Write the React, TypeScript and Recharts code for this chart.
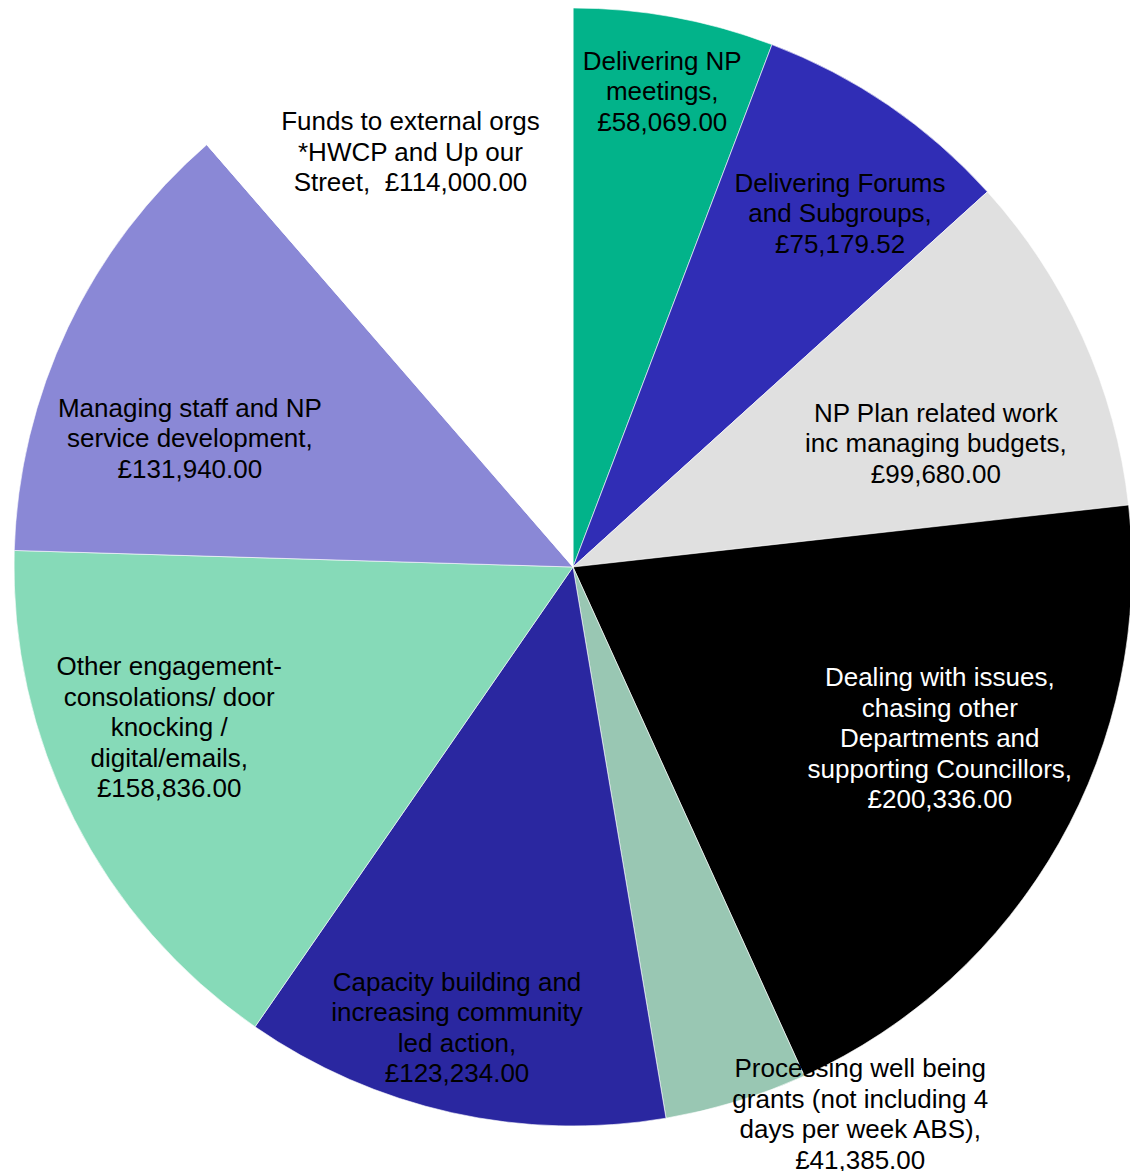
import { PieChart, Pie, Cell } from "recharts";

const categories = [
  "Delivering NP meetings",
  "Delivering Forums and Subgroups",
  "NP Plan related work inc managing budgets",
  "Dealing with issues, chasing other Departments and supporting Councillors",
  "Processing well being grants (not including 4 days per week ABS)",
  "Capacity building and increasing community led action",
  "Other engagement- consolations/ door knocking / digital/emails",
  "Managing staff and NP service development",
  "Funds to external orgs *HWCP and Up our Street",
];

const values = [
  58069.0, 75179.52, 99680.0, 200336.0, 41385.0, 123234.0, 158836.0, 131940.0,
  114000.0,
];

// label text as wrapped in the original
const labelLines = [
  ["Delivering NP", "meetings,", "£58,069.00"],
  ["Delivering Forums", "and Subgroups,", "£75,179.52"],
  ["NP Plan related work", "inc managing budgets,", "£99,680.00"],
  [
    "Dealing with issues,",
    "chasing other",
    "Departments and",
    "supporting Councillors,",
    "£200,336.00",
  ],
  [
    "Processing well being",
    "grants (not including 4",
    "days per week ABS),",
    "£41,385.00",
  ],
  ["Capacity building and", "increasing community", "led action,", "£123,234.00"],
  [
    "Other engagement-",
    "consolations/ door",
    "knocking /",
    "digital/emails,",
    "£158,836.00",
  ],
  ["Managing staff and NP", "service development,", "£131,940.00"],
  ["Funds to external orgs", "*HWCP and Up our", "Street,  £114,000.00"],
];

const colors = [
  "#02B38A",
  "#302DB5",
  "#E0E0E0",
  "#000000",
  "#99C7B3",
  "#2A27A0",
  "#86DAB8",
  "#8A88D6",
  "#FFFFFF",
];

const textColors = ["#000", "#000", "#000", "#fff", "#000", "#000", "#000", "#000", "#000"];

// manual label nudges (degrees clockwise, fraction of radius)
const labelShift = [0.2, 2.7, 5.4, -4.6, -10.7, 1.6, 5.2, -6.8, -0.9];
const labelRadius = [0.866, 0.793, 0.686, 0.724, 1.105, 0.849, 0.777, 0.723, 0.798];

const data = categories.map((name, i) => ({ name, value: values[i] }));

const RAD = Math.PI / 180;
const LINE_H = 30.5;

function renderLabel(props: any) {
  const { cx, cy, midAngle, outerRadius, index } = props;
  const a = (90 - midAngle + labelShift[index]) * RAD;
  const r = outerRadius * labelRadius[index];
  const x = cx + r * Math.sin(a);
  const y = cy - r * Math.cos(a);
  const lines = labelLines[index];
  const top = y - ((lines.length - 1) / 2) * LINE_H;
  return (
    <text
      x={x}
      y={top}
      textAnchor="middle"
      fill={textColors[index]}
      fontSize={26}
      fontFamily="'Liberation Sans', Arial, sans-serif"
      style={{ whiteSpace: "pre" }}
    >
      {lines.map((line, i) => (
        <tspan key={i} x={x} y={top + i * LINE_H} dy="0.35em">
          {line}
        </tspan>
      ))}
    </text>
  );
}

export default function App() {
  return (
    <div style={{ position: "absolute", left: 0, top: 0, background: "#fff" }}>
      <PieChart width={1130} height={1171} margin={{ top: 0, right: 0, bottom: 0, left: 0 }}>
        <Pie
          data={data}
          dataKey="value"
          nameKey="name"
          cx={573}
          cy={567}
          outerRadius={559}
          startAngle={90}
          endAngle={-270}
          stroke="#ffffff"
          strokeWidth={0.6}
          label={renderLabel}
          labelLine={false}
          isAnimationActive={false}
        >
          {data.map((d, i) => (
            <Cell key={d.name} fill={colors[i]} />
          ))}
        </Pie>
      </PieChart>
    </div>
  );
}
